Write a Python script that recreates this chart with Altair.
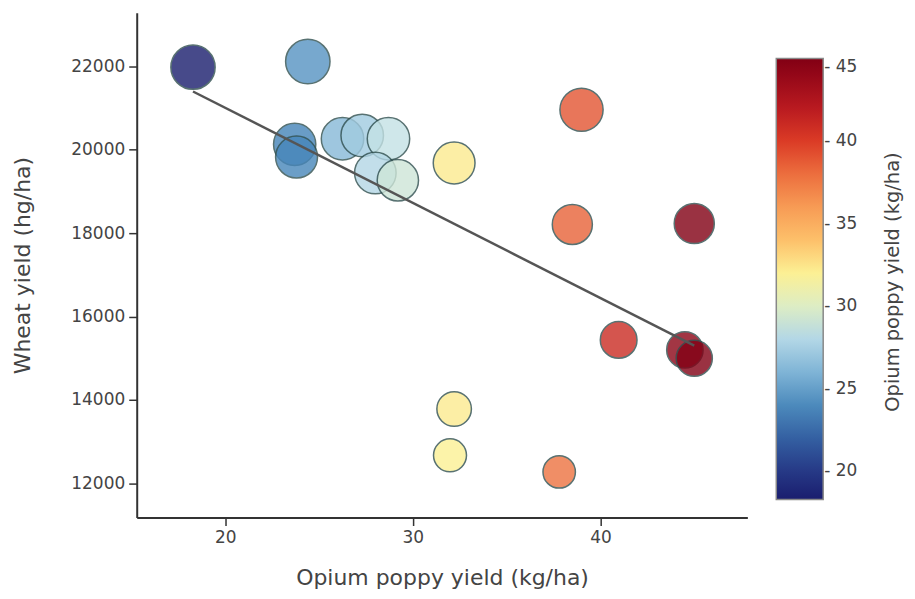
import altair as alt
import pandas as pd

# Opium poppy yield (kg/ha) per point
opium = [18.28, 24.4, 23.7, 23.8, 26.25, 27.3, 28.7, 28.0, 29.2, 32.2,
         38.99, 38.5, 45.0, 40.97, 44.5, 45.0, 32.2, 31.98, 37.8]
# Wheat yield (hg/ha) per point
wheat = [21976, 22112, 20127, 19823, 20263, 20342, 20263, 19440, 19266, 19680,
         20957, 18206, 18230, 15438, 15199, 14999, 13781, 12671, 12274]

x_ticks = [20, 30, 40]
y_ticks = [12000, 14000, 16000, 18000, 20000, 22000]
cbar_ticks = [20, 25, 30, 35, 40, 45]

color_stops = [18.28, 21, 23.5, 26, 28.5, 31.6, 34, 37, 40, 42.5, 45]
color_range = ["#1a1d6e", "#2d4a94", "#3f80b6", "#7fb4d6", "#c0e0ea", "#fcfa9c",
               "#fdc06a", "#f4884a", "#db3b26", "#b0121f", "#820014"]

df = pd.DataFrame({"opium": opium, "wheat": wheat})

xscale = alt.Scale(domain=[15.28, 47.83], nice=False, zero=False)
yscale = alt.Scale(domain=[11180, 23285], nice=False, zero=False)

base = alt.Chart(df)

points = base.mark_circle(opacity=0.8, stroke="#2f4f4f", strokeWidth=1.5).encode(
    x=alt.X("opium:Q", scale=xscale,
            axis=alt.Axis(values=x_ticks, title="Opium poppy yield (kg/ha)",
                          titlePadding=22)),
    y=alt.Y("wheat:Q", scale=yscale,
            axis=alt.Axis(values=y_ticks, format="d", title="Wheat yield (hg/ha)",
                          titlePadding=36)),
    color=alt.Color("opium:Q",
                    scale=alt.Scale(domain=color_stops, range=color_range, interpolate="rgb"),
                    legend=alt.Legend(title=None, orient="none", legendX=641, legendY=46,
                                      gradientLength=442, gradientThickness=47,
                                      gradientStrokeColor="#888", gradientStrokeWidth=1.5,
                                      gradientOpacity=1,
                                      values=cbar_ticks, labelFontSize=17,
                                      labelColor="#444", labelFont="DejaVu Sans",
                                      labelOffset=1,
                                      labelExpr="'- ' + datum.label")),
    size=alt.Size("wheat:Q", scale=alt.Scale(domain=[12274, 22112], range=[1056, 1980], zero=False),
                  legend=None),
)

line = base.transform_regression("opium", "wheat").mark_line(
    color="#555555", strokeWidth=2.5
).encode(x=alt.X("opium:Q", scale=xscale), y=alt.Y("wheat:Q", scale=yscale))

cbar_title = alt.Chart(pd.DataFrame({"t": ["Opium poppy yield (kg/ha)"]})).mark_text(
    angle=270, fontSize=19.5, font="DejaVu Sans", color="#444", baseline="middle", align="center"
).encode(x=alt.value(758), y=alt.value(270), text="t:N")

chart = alt.layer(points, line, cbar_title).properties(
    width=612, height=506,
    padding={"left": 129, "top": 4, "right": 160, "bottom": 77},
    autosize="none",
).configure_view(stroke=None).configure_axis(
    grid=False, domainColor="#333", domainWidth=2, tickColor="#333", tickWidth=1.5,
    tickSize=8, labelFontSize=17, labelColor="#444", labelFont="DejaVu Sans",
    titleFontSize=22, titleColor="#444", titleFont="DejaVu Sans", titleFontWeight="normal",
    labelPadding=4,
)

chart.save("out.html", embed_options={"renderer": "svg", "actions": False})
